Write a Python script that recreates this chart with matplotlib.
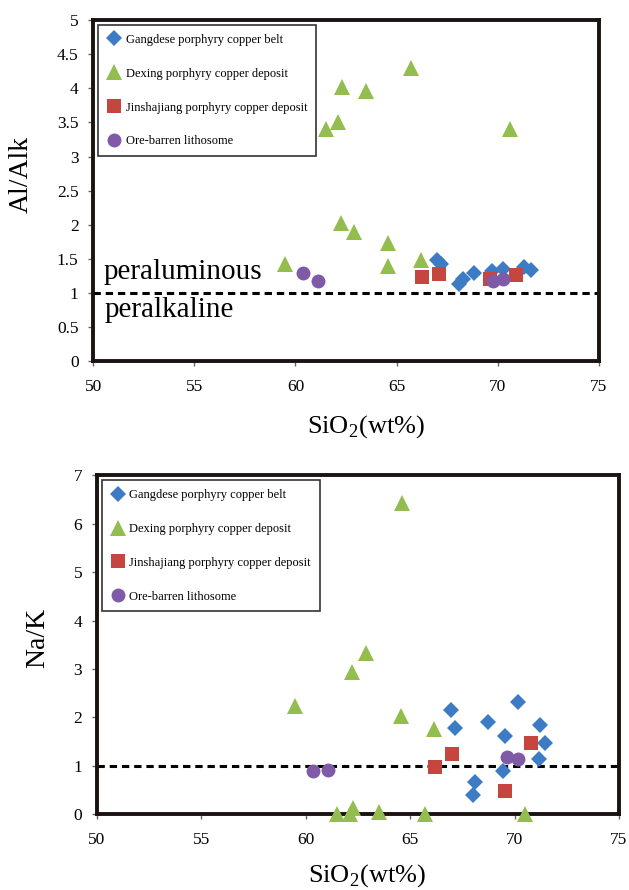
import numpy as np
import matplotlib.pyplot as plt

plt.rcParams['font.family'] = ['Liberation Serif', 'DejaVu Serif']
plt.rcParams['mathtext.fontset'] = 'custom'
plt.rcParams['mathtext.rm'] = 'Liberation Serif'

# --- data ---
labels = ['Gangdese porphyry copper belt', 'Dexing porphyry copper deposit',
          'Jinshajiang porphyry copper deposit', 'Ore-barren lithosome']

# top panel: Al/Alk vs SiO2
gd_si_a = [67.0, 67.2, 68.07, 68.27, 68.85, 69.7, 70.25, 71.3, 71.66]
gd_aa = [1.49, 1.43, 1.13, 1.20, 1.30, 1.32, 1.36, 1.38, 1.34]
dx_si_a = [65.7, 62.3, 63.5, 62.1, 61.5, 70.6, 59.5, 62.25, 62.9, 64.6, 64.6, 66.2]
dx_aa = [4.29, 4.02, 3.96, 3.50, 3.40, 3.41, 1.43, 2.02, 1.90, 1.73, 1.39, 1.49]
js_si_a = [66.25, 67.1, 69.6, 70.9]
js_aa = [1.23, 1.28, 1.20, 1.27]
ob_si_a = [60.4, 61.1, 69.76, 70.25]
ob_aa = [1.29, 1.18, 1.18, 1.20]

# bottom panel: Na/K vs SiO2
gd_si_b = [66.95, 67.14, 68.71, 70.17, 69.54, 71.21, 71.48, 71.18, 69.45, 68.1, 67.99]
gd_nk = [2.16, 1.78, 1.91, 2.32, 1.61, 1.84, 1.47, 1.14, 0.89, 0.66, 0.40]
dx_si_b = [59.49, 62.23, 62.89, 64.6, 64.55, 66.15, 61.48, 62.28, 62.1, 63.49, 65.7, 70.49]
dx_nk = [2.23, 2.94, 3.33, 6.43, 2.04, 1.76, 0.0, 0.13, 0.0, 0.04, 0.0, 0.01]
js_si_b = [67.01, 66.19, 69.54, 70.77]
js_nk = [1.25, 0.98, 0.49, 1.47]
ob_si_b = [60.33, 61.05, 69.62, 70.17]
ob_nk = [0.89, 0.92, 1.18, 1.14]

colors = ['#3d7cc4', '#94bd4f', '#c4463f', '#7f5aa6']
markers = ['D', '^', 's', 'o']
sizes = [8, 11, 10, 10]

fig = plt.figure(figsize=(6.29, 8.90), dpi=100)
ax1 = fig.add_axes([0.148, 0.594, 0.804, 0.3835])
ax2 = fig.add_axes([0.154, 0.085, 0.830, 0.381])


def draw(ax, series, ymax, ystep, yfmt):
    for (xs, ys), lab, c, m, s in zip(series, labels, colors, markers, sizes):
        ax.plot(xs, ys, linestyle='none', marker=m, color=c, markersize=s,
                markeredgewidth=0, label=lab, clip_on=False, zorder=3)
    ax.axhline(1, color='black', linestyle=(0, (2.4, 1.6)), linewidth=2.2, zorder=2)
    ax.set_xlim(50, 75)
    ax.set_ylim(0, ymax)
    ax.set_xticks(np.arange(50, 76, 5))
    ax.set_yticks(np.arange(0, ymax + 0.01, ystep))
    ax.yaxis.set_major_formatter(yfmt)
    for sp in ax.spines.values():
        sp.set_linewidth(2.8)
        sp.set_color('#1a1311')
    ax.tick_params(direction='out', length=3.5, width=1, labelsize=12.5, color='#666666')
    ax.tick_params(axis='x', pad=9)
    ax.tick_params(axis='y', pad=7)
    leg = ax.legend(loc='upper left', fontsize=9, frameon=True, fancybox=False,
                    edgecolor='black', labelspacing=1.75, handletextpad=0.3,
                    borderpad=0.7, handlelength=1.2, bbox_to_anchor=(0.0, 1.0),
                    borderaxespad=0.4)
    leg.get_frame().set_linewidth(1.2)


draw(ax1, [(gd_si_a, gd_aa), (dx_si_a, dx_aa), (js_si_a, js_aa), (ob_si_a, ob_aa)],
     5, 0.5, plt.FuncFormatter(lambda v, p: '%g' % v))
ax1.set_ylabel('Al/Alk', fontsize=20)
ax1.yaxis.set_label_coords(-0.118, 0.548)
ax1.set_xlabel('SiO$_2$(wt%)', fontsize=19)
ax1.xaxis.set_label_coords(0.54, -0.152)
ax1.text(50.5, 1.31, 'peraluminous', fontsize=21, va='center', ha='left')
ax1.text(50.58, 0.75, 'peralkaline', fontsize=21, va='center', ha='left')

draw(ax2, [(gd_si_b, gd_nk), (dx_si_b, dx_nk), (js_si_b, js_nk), (ob_si_b, ob_nk)],
     7, 1, plt.FuncFormatter(lambda v, p: '%d' % v))
ax2.set_ylabel('Na/K', fontsize=20)
ax2.yaxis.set_label_coords(-0.089, 0.52)
ax2.set_xlabel('SiO$_2$(wt%)', fontsize=19)
ax2.xaxis.set_label_coords(0.518, -0.14)

fig.savefig('out.png', dpi=100)
